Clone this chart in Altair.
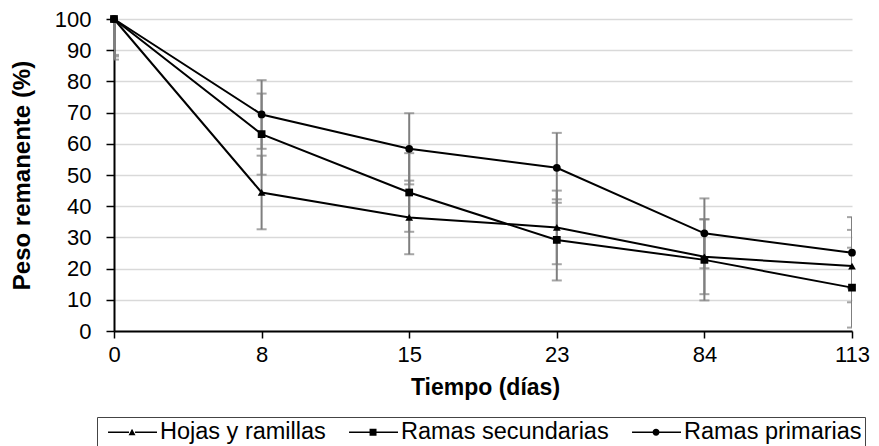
import altair as alt
import pandas as pd

days = ["0", "8", "15", "23", "84", "113"]
series = ["Hojas y ramillas", "Ramas secundarias", "Ramas primarias"]

hojas = [100, 44.4, 36.4, 33.2, 23.8, 20.8]
secundarias = [100, 63.1, 44.4, 29.2, 22.8, 13.9]
primarias = [100, 69.4, 58.4, 52.3, 31.3, 25.1]

err_hojas = [12.0, 11.8, 11.8, 11.8, 12.0, 11.6]
err_secundarias = [13.0, 13.0, 12.6, 13.0, 13.0, 12.8]
err_primarias = [11.5, 11.0, 11.4, 11.2, 11.2, 11.4]

rows = []
for name, vals, errs in zip(series, [hojas, secundarias, primarias],
                            [err_hojas, err_secundarias, err_primarias]):
    for d, v, e in zip(days, vals, errs):
        rows.append({"dia": d, "serie": name, "valor": v, "lo": v - e, "hi": v + e})
df = pd.DataFrame(rows)

FONT = "Liberation Sans"

xaxis = alt.Axis(title="Tiempo (días)", labelAngle=0, labelFontSize=22, labelFont=FONT,
                 labelColor="black", labelPadding=6, tickSize=7, tickColor="black",
                 tickWidth=1.5, domainColor="black", domainWidth=2, grid=False,
                 titleFont=FONT, titleFontSize=23, titleFontWeight="bold", titleColor="black",
                 titleX=371, titleY=56, titleBaseline="middle", titleAnchor="middle")
yaxis = alt.Axis(title="Peso remanente (%)", values=list(range(0, 101, 10)),
                 labelFontSize=22, labelFont=FONT, labelColor="black", labelPadding=15,
                 tickSize=8, tickColor="black", tickWidth=1.5, domainColor="black",
                 domainWidth=2, grid=True, gridColor="#d9d9d9", gridWidth=1.5,
                 titleFont=FONT, titleFontSize=24, titleFontWeight="bold", titleColor="black",
                 titleX=-92, titleY=156, titleAngle=-90, titleBaseline="middle",
                 titleAlign="center")

xs = alt.Scale(type="point", padding=0)
ys = alt.Scale(domain=[0, 100], nice=False)

def X():
    return alt.X("dia:N", sort=days, scale=xs, axis=xaxis)

base = alt.Chart(df)

bars = base.mark_rule(color="#7f7f7f", strokeWidth=2, clip=True).encode(
    x=X(), y=alt.Y("lo:Q", scale=ys, axis=yaxis), y2="hi:Q", detail="serie:N")
caps_lo = base.mark_tick(color="#7f7f7f", thickness=2, size=10, clip=True).encode(
    x=X(), y=alt.Y("lo:Q", scale=ys, axis=yaxis))
caps_hi = base.mark_tick(color="#7f7f7f", thickness=2, size=10, clip=True).encode(
    x=X(), y=alt.Y("hi:Q", scale=ys, axis=yaxis))

lines = base.mark_line(color="black", strokeWidth=2).encode(
    x=X(), y=alt.Y("valor:Q", scale=ys, axis=yaxis), detail="serie:N")

points = base.mark_point(filled=True, color="black", opacity=1, size=60).encode(
    x=X(), y=alt.Y("valor:Q", scale=ys, axis=yaxis),
    shape=alt.Shape("serie:N", scale=alt.Scale(domain=series,
                    range=["triangle-up", "square", "circle"]), legend=None))

seg = "M-0.33,-0.07H1.42V0.07H-0.33ZM1.92,-0.07H3.75V0.07H1.92Z"
legend_paths = [
    seg + "M1.38,0.24L1.67,-0.3L1.96,0.24Z",
    seg + "M1.38,-0.29H1.96V0.29H1.38Z",
    seg + "M1.38,0A0.29,0.29,0,1,1,1.96,0A0.29,0.29,0,1,1,1.38,0Z",
]

legend_layer = base.mark_point(filled=True, color="black", opacity=0).encode(
    x=X(), y=alt.Y("valor:Q", scale=ys, axis=yaxis),
    shape=alt.Shape("serie:N", scale=alt.Scale(domain=series, range=legend_paths),
                    legend=alt.Legend(title=None, orient="none", legendX=-17, legendY=398,
                                      direction="horizontal", columns=3,
                                      symbolSize=576, symbolStrokeWidth=0,
                                      symbolFillColor="black",
                                      symbolOpacity=1, labelFont=FONT, labelFontSize=23.5,
                                      labelColor="black", labelOffset=36, columnPadding=15,
                                      padding=3, strokeColor="#444444", labelLimit=400)))

chart = alt.layer(bars, caps_lo, caps_hi, lines, points, legend_layer).resolve_scale(
    shape="independent"
).properties(
    width=738, height=312,
    autosize=alt.AutoSizeParams(type="none"),
    padding={"left": 106, "top": 11, "right": 19, "bottom": 116},
).configure_view(stroke=None)

chart.save("out.html", embed_options={"renderer": "svg", "actions": False})
